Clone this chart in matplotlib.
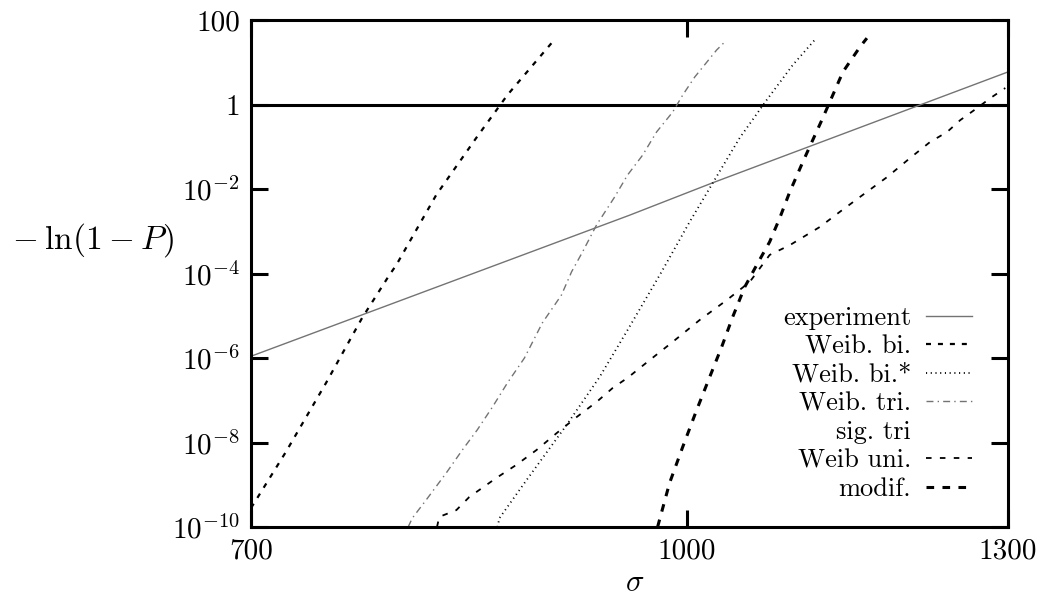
import matplotlib
matplotlib.use("Agg")
import matplotlib.pyplot as plt
import numpy as np

plt.rcParams["font.family"] = ["cmr10", "DejaVu Serif"]
plt.rcParams["mathtext.fontset"] = "cm"
plt.rcParams["axes.formatter.use_mathtext"] = True
plt.rcParams["lines.scale_dashes"] = False

# values (sigma, -ln(1-P))
exp_sig = [700, 954, 1021, 1300]
exp_val = [1.1e-6, 2.4e-3, 1.4e-2, 5.9]

wbi_sig = [700, 702.9, 720.3, 744.3, 766.6, 783.8, 788.3, 814.5, 841.6, 863.3, 895.7]
wbi_val = [10**-9.55, 10**-9.36, 10**-8.22, 10**-6.59, 10**-5.05, 10**-4.04,
           10**-3.80, 10**-2.14, 10**-0.79, 10**0.225, 10**1.48]

wbis_sig = [856.3, 857.7, 876.9, 906.0, 930.9, 952.4, 979.3, 1002.0, 1021.1,
            1043.9, 1067.2, 1090.2, 1110.0]
wbis_val = [1e-10, 10**-9.79, 10**-8.89, 10**-7.59, 10**-6.45, 10**-5.34, 10**-3.96,
            10**-2.78, 10**-1.86, 10**-0.79, 10**0.107, 10**0.935, 10**1.53]

wtri_sig = [796.0, 798.7, 807.8, 821.2, 832.0, 842.3, 852.8, 863.3, 875.4, 888.3,
            902.3, 909.8, 918.0, 928.6, 942.4, 952.4, 964.2, 975.3, 988.2, 996.4,
            1006.2, 1024.4, 1031.2]
wtri_val = [1e-10, 10**-9.79, 10**-9.36, 10**-8.72, 10**-8.18, 10**-7.70, 10**-7.16,
            10**-6.59, 10**-6.0, 10**-5.17, 10**-4.51, 10**-3.96, 10**-3.49, 10**-2.85,
            10**-2.19, 10**-1.67, 10**-1.20, 10**-0.65, 10**-0.18, 10**0.225,
            10**0.65, 10**1.29, 10**1.48]

wuni_sig = [815.0, 816.5, 828.0, 836.8, 855.5, 869.6, 884.0, 898.7, 913.5, 928.6,
            940.9, 952.4, 969.8, 988.2, 1010.3, 1032.9, 1052.5, 1069.8, 1087.5,
            1114.5, 1133.0, 1151.7, 1177.5, 1199.8, 1219.6, 1236.9, 1250.2,
            1267.8, 1281.3, 1297.1]
wuni_val = [1e-10, 10**-9.76, 10**-9.6, 10**-9.29, 10**-8.84, 10**-8.53, 10**-8.18,
            10**-7.78, 10**-7.40, 10**-7.04, 10**-6.71, 10**-6.47, 10**-6.05,
            10**-5.62, 10**-5.10, 10**-4.63, 10**-4.20, 10**-3.56, 10**-3.33,
            10**-2.90, 10**-2.54, 10**-2.19, 10**-1.72, 10**-1.27, 10**-0.89,
            10**-0.65, 10**-0.37, 10**-0.08, 10**0.15, 10**0.39]

mod_sig = [976.1, 985.7, 996.3, 1007.8, 1018.6, 1028.6, 1037.9, 1048.2, 1058.5,
           1069.8, 1078.6, 1087.5, 1099.2, 1107.3, 1116.4, 1126.5, 1135.8,
           1151.7, 1158.3]
mod_val = [1e-10, 10**-8.96, 10**-8.11, 10**-7.23, 10**-6.45, 10**-5.74, 10**-5.03,
           10**-4.32, 10**-3.80, 10**-3.25, 10**-2.69, 10**-2.07, 10**-1.36,
           10**-0.89, 10**-0.37, 10**0.225, 10**0.77, 10**1.36, 10**1.57]

x_ticks = [700, 1000, 1300]
y_ticks = [1e2, 1, 1e-2, 1e-4, 1e-6, 1e-8, 1e-10]
y_ticklabels = ["100", "1", r"$10^{-2}$", r"$10^{-4}$", r"$10^{-6}$",
                r"$10^{-8}$", r"$10^{-10}$"]

fig = plt.figure(figsize=(10.45, 6.01), dpi=100)
ax = fig.add_axes([251 / 1045, 1 - 527 / 601, 757 / 1045, 507 / 601])

ax.axhline(1, color="black", lw=2.2)
ax.plot(exp_sig, exp_val, color="0.45", lw=1.0, label="experiment")
ax.plot(wbi_sig, wbi_val, color="black", lw=1.6, dashes=(3.6, 5.0), label="Weib. bi.")
ax.plot(wbis_sig, wbis_val, color="black", lw=1.3, dashes=(0.8, 2.6), label="Weib. bi.*")
ax.plot(wtri_sig, wtri_val, color="0.45", lw=1.0, dashes=(5, 3, 1, 3), label="Weib. tri.")
ax.plot([], [], linestyle="none", label="sig. tri")
ax.plot(wuni_sig, wuni_val, color="black", lw=1.3, dashes=(4, 6), label="Weib uni.")
ax.plot(mod_sig, mod_val, color="black", lw=2.2, dashes=(5.5, 6), label="modif.")

ax.set_xscale("log")
ax.set_yscale("log")
ax.set_xlim(700, 1300)
ax.set_ylim(1e-10, 1e2)
ax.set_xticks(x_ticks)
ax.set_xticklabels([str(t) for t in x_ticks])
ax.set_yticks(y_ticks)
ax.set_yticklabels(y_ticklabels)
ax.minorticks_off()
ax.tick_params(which="major", direction="in", length=12, width=2.2,
               top=True, right=True, labelsize=21, pad=8)
for s in ax.spines.values():
    s.set_linewidth(2.2)

fig.text(12 / 1045, 1 - 240 / 601, r"$-\:\ln(1\:-\:P)$", fontsize=24,
         ha="left", va="center")
fig.text(635 / 1045, 1 - 583 / 601, r"$\sigma$", fontsize=22, ha="center", va="center")

ax.legend(loc="lower right", bbox_to_anchor=(985 / 1045, 1 - 514 / 601),
          bbox_transform=fig.transFigure, frameon=False, markerfirst=False,
          fontsize=19, handlelength=1.75, handletextpad=0.55, labelspacing=0.18,
          borderpad=0)

fig.savefig("out.png", dpi=100)
